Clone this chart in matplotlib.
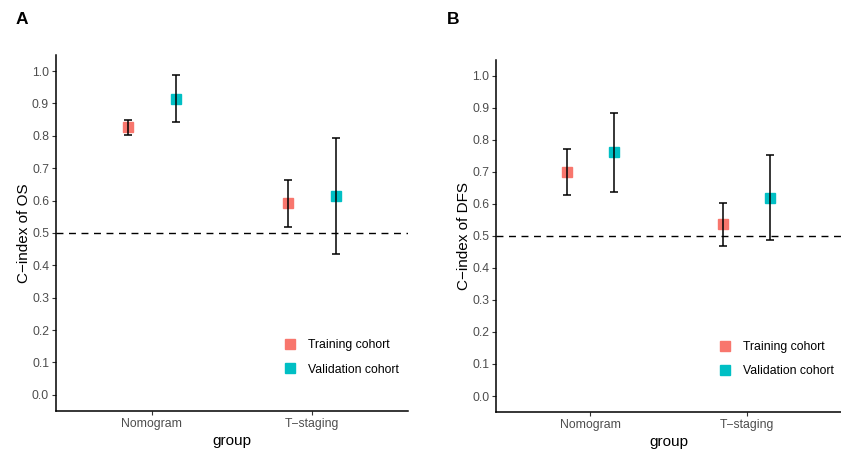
import numpy as np
import matplotlib
matplotlib.use("Agg")
import matplotlib.pyplot as plt
from matplotlib.lines import Line2D

plt.rcParams['font.family'] = ['Liberation Sans', 'DejaVu Sans']

groups = ["Nomogram", "T\u2212staging"]
cohorts = ["Training cohort", "Validation cohort"]
colors = ["#F8766D", "#00BFC4"]

# C-index, lower and upper CI per cohort (rows) and group (columns)
os_c = [[0.827, 0.592], [0.915, 0.613]]
os_lo = [[0.804, 0.518], [0.842, 0.436]]
os_hi = [[0.849, 0.664], [0.987, 0.793]]

dfs_c = [[0.699, 0.537], [0.761, 0.620]]
dfs_lo = [[0.627, 0.469], [0.637, 0.488]]
dfs_hi = [[0.770, 0.604], [0.884, 0.753]]

yticks = np.arange(0, 1.01, 0.1)

fig = plt.figure(figsize=(8.41, 4.5), dpi=100)
axA = fig.add_axes([0.0666, 0.0867, 0.4184, 0.7913])
axB = fig.add_axes([0.590, 0.0844, 0.410, 0.7826])


def panel(ax, c, lo, hi, ylabel, leg_x):
    x = np.arange(1, len(groups) + 1)
    offs = [-0.15, 0.15]
    for k in range(len(cohorts)):
        xs = x + offs[k]
        yc = np.array(c[k])
        ax.plot(xs, yc, linestyle="none", marker="s", markersize=7.5,
                color=colors[k], zorder=2)
        ax.errorbar(xs, yc, yerr=[yc - np.array(lo[k]), np.array(hi[k]) - yc],
                    fmt="none", ecolor="black", elinewidth=1.1, capsize=3,
                    capthick=1.1, zorder=3)
    ax.axhline(0.5, color="black", linestyle=(0, (5, 4)), linewidth=1.0, zorder=1)
    ax.set_xlim(0.4, 2.6)
    ax.set_ylim(-0.05, 1.05)
    ax.set_xticks(x)
    ax.set_xticklabels(groups)
    ax.set_yticks(yticks)
    ax.set_yticklabels([f"{v:.1f}" for v in yticks])
    ax.tick_params(colors="#333333", labelcolor="#4D4D4D", labelsize=8.8,
                   length=3, width=0.8, pad=2)
    for s in ["top", "right"]:
        ax.spines[s].set_visible(False)
    for s in ["left", "bottom"]:
        ax.spines[s].set_linewidth(1.1)
        ax.spines[s].set_color("black")
    ax.set_ylabel(ylabel, fontsize=11, labelpad=1)
    ax.set_xlabel("group", fontsize=11, labelpad=3)
    handles = [Line2D([], [], linestyle="none", marker="s", markersize=7.5,
                      color=col) for col in colors]
    ax.legend(handles, cohorts, loc="center left", bbox_to_anchor=(leg_x, 0.15),
              frameon=False, fontsize=8.8, handlelength=1.0, handletextpad=0.9,
              labelspacing=1.0, borderaxespad=0)


panel(axA, os_c, os_lo, os_hi, "C\u2212index of OS", 0.635)
panel(axB, dfs_c, dfs_lo, dfs_hi, "C\u2212index of DFS", 0.633)

fig.text(16 / 841, 1 - 20 / 450, "A", fontsize=12.5, fontweight="bold", va="center")
fig.text(447 / 841, 1 - 19 / 450, "B", fontsize=12.5, fontweight="bold", va="center")

fig.savefig("out.png", dpi=100)
